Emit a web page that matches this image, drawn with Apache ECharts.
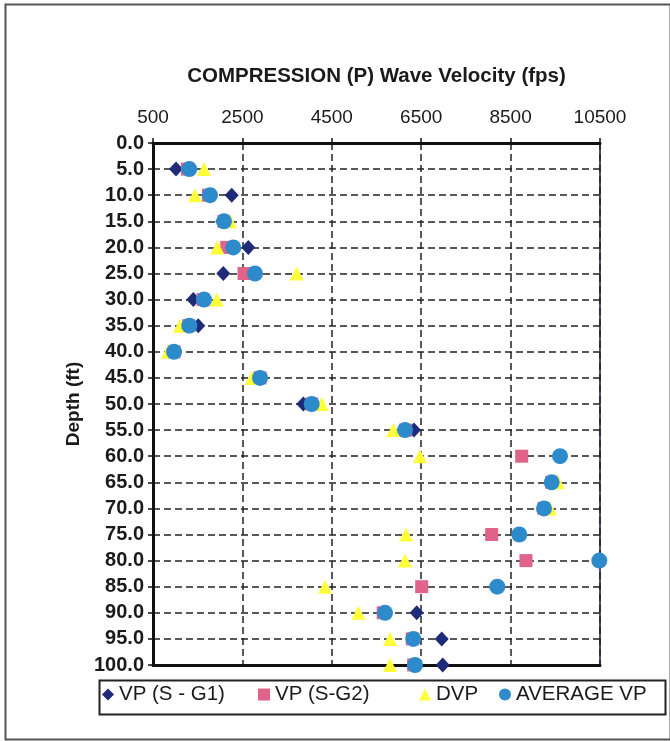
<!DOCTYPE html>
<html>
<head>
<meta charset="utf-8">
<script src="https://cdn.jsdelivr.net/npm/echarts@6/dist/echarts.min.js"></script>
<style>
html,body{margin:0;padding:0;background:#fff;}
#chart{width:670px;height:741px;}
</style>
</head>
<body>
<div id="chart"></div>
<script>
// Depth (ft) for each reading
const depths = [5,10,15,20,25,30,35,40,45,50,55,60,65,70,75,80,85,90,95,100];
// Compression wave velocity (fps)
const vpG1   = [1015,2261,2050,2632,2073,1402,1513,950,2880,3862,6339,null,null,null,null,null,null,6399,6959,6981];
const vpG2   = [1270,1740,2088,2149,2536,1620,1300,970,2894,4050,6150,8748,9419,9247,8077,8844,6511,5650,6300,6330];
const dvp    = [1641,1440,2223,1938,3715,1925,1104,836,2708,4274,5876,6473,9560,9381,6160,6138,4348,5093,5802,5802];
const avgVp  = [1312,1775,2088,2296,2782,1641,1312,970,2894,4050,6138,9605,9419,9247,8694,10485,8202,5690,6323,6361];
const seriesNames = ['VP (S - G1)','VP (S-G2)','DVP','AVERAGE VP'];
const xTitle = 'COMPRESSION (P) Wave Velocity (fps)';
const yTitle = 'Depth (ft)';

const FONT = '"Liberation Sans", Arial, sans-serif';
const colors = ['#1f2a78','#e0648a','#ffff3a','#2e8bcb'];
const symbols = ['diamond','rect','triangle','circle'];
const sizes = [[14,15],13,14,16];

function pairs(arr){
  const out = [];
  arr.forEach((v,i)=>{ if(v!==null) out.push([v, depths[i]]); });
  return out;
}
const allData = [vpG1, vpG2, dvp, avgVp];

const chart = echarts.init(document.getElementById('chart'), null, {renderer:'canvas'});
const gridLine = {show:true, lineStyle:{color:'#222', width:1.5, type:[7,4]}};

const legendLefts = [102, 258, 419, 499];

chart.setOption({
  animation:false,
  backgroundColor:'#fff',
  textStyle:{fontFamily:FONT},
  grid:{left:153, right:70, top:143, bottom:76, show:true, borderColor:'#1a1a40', borderWidth:1.5},
  xAxis:[{
    type:'value', position:'top', min:500, max:10500, interval:2000,
    name:xTitle, nameLocation:'middle', nameGap:56,
    nameTextStyle:{fontFamily:FONT, fontWeight:'bold', fontSize:20.5, color:'#1a1a1a'},
    axisLine:{show:true, onZero:false, lineStyle:{color:'#111', width:3}},
    axisTick:{show:true, length:5, lineStyle:{color:'#111', width:1.5}},
    axisLabel:{fontFamily:FONT, fontSize:19, color:'#1a1a1a', margin:16, formatter:v=>String(v)},
    splitLine:gridLine
  },{
    type:'value', position:'bottom', min:500, max:10500, interval:2000,
    axisLine:{show:true, onZero:false, lineStyle:{color:'#111', width:3}},
    axisTick:{show:false}, axisLabel:{show:false}, splitLine:{show:false}
  }],
  yAxis:[{
    type:'value', inverse:true, min:0, max:100, interval:5,
    name:yTitle, nameLocation:'middle', nameGap:68, nameRotate:90,
    nameTextStyle:{fontFamily:FONT, fontWeight:'bold', fontSize:19, color:'#1a1a1a'},
    axisLine:{show:true, onZero:false, lineStyle:{color:'#111', width:3}},
    axisTick:{show:true, length:5, lineStyle:{color:'#111', width:1.5}},
    axisLabel:{fontFamily:FONT, fontWeight:'bold', fontSize:20, color:'#1a1a1a', margin:9,
      formatter:v=>v.toFixed(1)},
    splitLine:gridLine
  }],
  legend: seriesNames.map((n,i)=>({
    data:[n], left:legendLefts[i], top:684, padding:0,
    itemWidth:12, itemHeight:12, itemGap:0,
    textStyle:{fontFamily:FONT, fontSize:20.5, color:'#1a1a1a'}
  })),
  graphic:[
    {type:'rect', left:3, top:2, shape:{width:665, height:735}, style:{fill:null, stroke:'#555', lineWidth:2}, silent:true, z:-10},
    {type:'rect', left:97, top:678, shape:{width:566, height:34}, style:{fill:null, stroke:'#222', lineWidth:2}, silent:true, z:-5}
  ],
  series: seriesNames.map((n,i)=>({
    name:n, type:'scatter', xAxisIndex:0, yAxisIndex:0,
    symbol:symbols[i], symbolSize:sizes[i],
    itemStyle:{color:colors[i], opacity:1},
    data:pairs(allData[i])
  }))
});
</script>
</body>
</html>
